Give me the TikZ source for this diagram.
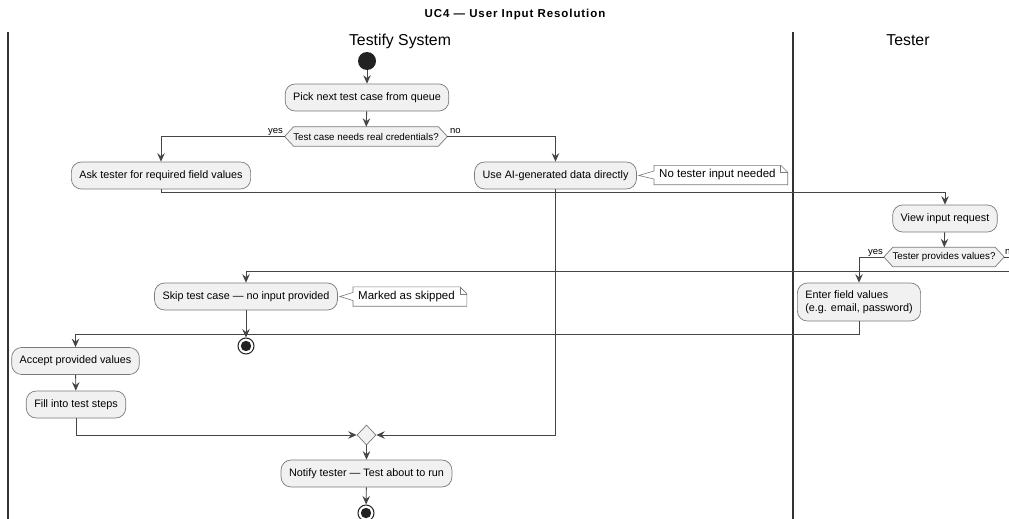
\documentclass[tikz,border=0pt]{standalone}
\usepackage{fontspec}
\setmainfont{Liberation Sans}
\usetikzlibrary{arrows.meta,calc,backgrounds,shapes.geometric}
\definecolor{boxfill}{HTML}{F1F1F1}
\definecolor{edgecol}{HTML}{454545}
\definecolor{bordercol}{HTML}{7A7A7A}
\definecolor{lanecol}{HTML}{333333}
\definecolor{dotcol}{HTML}{222222}

\begin{document}
\begin{tikzpicture}[x=1pt,y=-1pt,
  act/.style={draw=bordercol, line width=0.7pt, fill=boxfill, rounded corners=10pt,
    inner xsep=8pt, inner ysep=3pt, minimum height=27pt, font=\fontsize{10.8}{13}\selectfont},
  cond/.style={inner xsep=8.5pt, inner ysep=2pt, minimum height=19pt, font=\fontsize{9.8}{11}\selectfont},
  hexshape/.style={draw=bordercol, line width=0.7pt, fill=boxfill},
  notebox/.style={inner xsep=5pt, inner ysep=2pt, minimum height=19pt, anchor=west, font=\fontsize{11.5}{13}\selectfont},
  noteshape/.style={draw=bordercol, line width=0.6pt, fill=white},
  lbl/.style={inner sep=0pt, font=\fontsize{9.5}{11}\selectfont},
  lanetitle/.style={inner sep=0pt, anchor=base, font=\fontsize{15.8}{18}\selectfont},
  startdot/.style={circle, fill=dotcol, minimum size=18pt, inner sep=0pt},
  enddot/.style={circle, draw=dotcol, line width=1pt, fill=white, minimum size=16pt, inner sep=0pt,
    path picture={\fill[dotcol] (path picture bounding box.center) circle (5.2pt);}},
  mergeshape/.style={diamond, draw=bordercol, line width=0.7pt, fill=boxfill, minimum width=19pt, minimum height=20pt, inner sep=0pt},
  flow/.style={draw=edgecol, line width=0.9pt, -{Stealth[length=8.5pt,width=7.5pt,inset=3pt]}},
  plain/.style={draw=edgecol, line width=0.9pt},
  lane/.style={draw=lanecol, line width=1.4pt}
]
\clip (0,0) rectangle (1009,519);
\begin{scope}[on background layer]
  \fill[white] (0,0) rectangle (1009,519);
\end{scope}

% title and swimlanes
\node[inner sep=0pt, anchor=base, font=\fontsize{11.5}{13}\selectfont\bfseries\addfontfeature{LetterSpace=8}] (title) at (515,18) {UC4 — User Input Resolution};
\coordinate (laneLtop) at (8,32);   \coordinate (laneLbot) at (8,519);
\coordinate (laneMtop) at (793,32); \coordinate (laneMbot) at (793,519);
\draw[lane] (laneLtop) -- (laneLbot);
\draw[lane] (laneMtop) -- (laneMbot);
\node[lanetitle] (sysname) at (400,46) {Testify System};
\node[lanetitle] (testername) at (908,46) {Tester};

% activities
\node[startdot] (start) at (367,61) {};
\node[act] (pick) at (367,97.5) {Pick next test case from queue};
\node[cond] (dec1) at (366,136.5) {Test case needs real credentials?};
\node[act] (ask) at (161,175.5) {Ask tester for required field values};
\node[act] (useai) at (555.5,175.5) {Use AI-generated data directly};
\node[notebox] (note1) at (654,175) {No tester input needed};
\node[act] (view) at (945,218.5) {View input request};
\node[cond] (dec2) at (944,257) {Tester provides values?};
\node[act, align=left, minimum height=38pt] (enter) at (859,302) {Enter field values\\(e.g. email, password)};
\node[act] (skip) at (246,296.5) {Skip test case — no input provided};
\node[notebox] (note2) at (353,296.5) {Marked as skipped};
\node[enddot] (end1) at (246,346) {};
\node[act] (accept) at (75.5,361) {Accept provided values};
\node[act] (fill) at (76,404.5) {Fill into test steps};
\node[mergeshape] (merge) at (366.5,435) {};
\node[act] (notify) at (366.5,473.5) {Notify tester — Test about to run};
\node[enddot] (end2) at (366,513) {};

% hexagons and notes behind their texts
\begin{scope}[on background layer]
  \foreach \d in {dec1,dec2}{
    \path[hexshape] (\d.west) -- ($(\d.north west)+(9,0)$) -- ($(\d.north east)+(-9,0)$)
      -- (\d.east) -- ($(\d.south east)+(-9,0)$) -- ($(\d.south west)+(9,0)$) -- cycle;
  }
  \path[noteshape] (note1.north west) -- (note1.north east) -- ($(note1.north east)+(7,7)$)
    -- ($(note1.south east)+(7,0)$) -- (note1.south west) -- ($(note1.west)+(0,4)$)
    -- ($(useai.east)+(2,0)$) -- ($(note1.west)+(0,-4)$) -- cycle;
  \draw[bordercol, line width=0.6pt] (note1.north east) -- ($(note1.north east)+(0,7)$) -- ($(note1.north east)+(7,7)$);
  \path[noteshape] (note2.north west) -- (note2.north east) -- ($(note2.north east)+(7,7)$)
    -- ($(note2.south east)+(7,0)$) -- (note2.south west) -- ($(note2.west)+(0,4)$)
    -- ($(skip.east)+(2,0)$) -- ($(note2.west)+(0,-4)$) -- cycle;
  \draw[bordercol, line width=0.6pt] (note2.north east) -- ($(note2.north east)+(0,7)$) -- ($(note2.north east)+(7,7)$);
\end{scope}

% branch labels
\node[lbl, anchor=base east] (yes1) at (283,133) {yes};
\node[lbl, anchor=base west] (no1) at (450,133) {no};
\node[lbl, anchor=base east] (yes2) at (883,254) {yes};
\node[lbl, anchor=base west] (no2) at (1005,254) {no};
\coordinate (noturn) at (1022,271);

% flows
\path[flow] (start) -- (pick);
\path[flow] (pick) -- (dec1);
\path[flow] (dec1.west) -| (ask.north);
\path[flow] (dec1.east) -| (useai.north);
\path[flow] (ask.south) -- ++(0,3) -| (view.north);
\path[flow] (view) -- (dec2);
\path[flow] (dec2.west) -| (enter.north);
\path[plain] (dec2.east) -| (noturn);
\path[flow] (noturn) -| (skip.north);
\path[flow] (enter.south) -- ++(0,13) -| (accept.north);
\path[flow] (skip) -- (end1);
\path[flow] (accept) -- (fill);
\path[flow] (fill.south) |- (merge.west);
\path[flow] (useai.south) |- (merge.east);
\path[flow] (merge) -- (notify);
\path[flow] (notify) -- (end2);
\end{tikzpicture}
\end{document}
